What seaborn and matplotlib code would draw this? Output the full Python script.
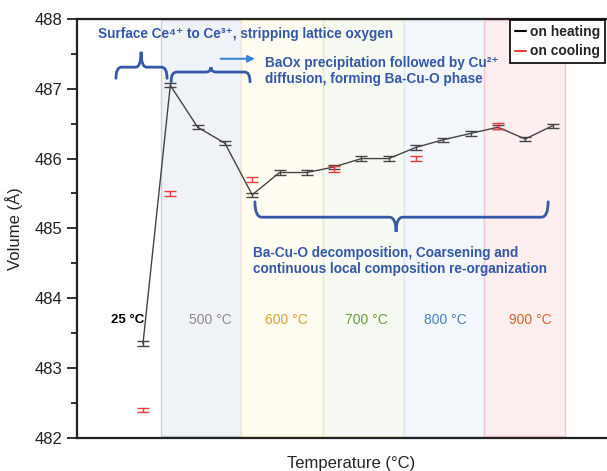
import matplotlib
matplotlib.use("Agg")
import matplotlib.pyplot as plt
import numpy as np
import pandas as pd
import seaborn as sns
from matplotlib.lines import Line2D
from matplotlib.path import Path
from matplotlib.patches import PathPatch


# heating series: one point per scan (index along x, no numeric ticks shown)
heat_idx = list(range(16))
heat_vol = [483.35, 487.05, 486.45, 486.22, 485.48, 485.80, 485.80, 485.88,
            486.00, 486.00, 486.16, 486.27, 486.36, 486.45, 486.28, 486.47]
heat_err = [0.04, 0.03, 0.03, 0.03, 0.03, 0.03, 0.03, 0.03,
            0.03, 0.03, 0.04, 0.03, 0.03, 0.03, 0.03, 0.03]

# cooling series
cool_idx = [0, 1, 4, 7, 10, 13]
cool_vol = [482.40, 485.50, 485.70, 485.85, 486.00, 486.47]
cool_err = [0.03, 0.03, 0.03, 0.04, 0.03, 0.04]

# temperature bands
band_labels = ["500 °C", "600 °C", "700 °C", "800 °C", "900 °C"]
band_edges = [0.65, 3.6, 6.6, 9.55, 12.5, 15.45]
band_fill = ["#eff2f6", "#fffcf2", "#f7faf3", "#f3f7fc", "#fdeef0"]
band_edge = ["#cfd1d4", "#f6ecc0", "#e0edce", "#dbe7f5", "#f5c8ce"]
band_text = ["#8a8a8a", "#d9a13a", "#6a9a3c", "#4a7fc4", "#d4622e"]

BLUE = "#3558a8"
FAMILIES = ["Liberation Sans", "DejaVu Sans"]
NOTE_FONT = dict(fontsize=9.8, fontweight="bold", color=BLUE, family=FAMILIES)

sns.set_theme(style="ticks")
plt.rcParams["font.family"] = FAMILIES

fig = plt.figure(figsize=(6.07, 4.71), dpi=100)
ax = fig.add_axes([77 / 607, 1 - 437.7 / 471, 1.03 - 77 / 607, (437.7 - 19) / 471])

for i, lab in enumerate(band_labels):
    ax.axvspan(band_edges[i], band_edges[i + 1], ymin=0.004, ymax=0.997,
               facecolor=band_fill[i], edgecolor=band_edge[i], lw=1.0, zorder=0)

df_heat = pd.DataFrame({"idx": heat_idx, "vol": heat_vol})
sns.lineplot(data=df_heat, x="idx", y="vol", ax=ax, color="#454545", lw=1.0, zorder=3)
ax.errorbar(heat_idx, heat_vol, yerr=heat_err, fmt="none", ecolor="#454545",
            elinewidth=1.0, capsize=4, capthick=1.0, zorder=4)
ax.errorbar(cool_idx, cool_vol, yerr=cool_err, fmt="none", ecolor="#ee3b3b",
            elinewidth=1.0, capsize=4, capthick=1.0, zorder=5)

ax.set_xlim((77 - 143) / 27.3, (1.03 * 607 - 143) / 27.3)
ax.set_ylim(482, 488)
ax.set_xticks([])
ax.set_yticks([482, 483, 484, 485, 486, 487, 488])
ax.set_yticks(np.arange(482.5, 488, 1), minor=True)
ax.tick_params(axis="y", which="major", direction="out", length=7, width=1.3,
               labelsize=12, colors="#222222")
ax.tick_params(axis="y", which="minor", direction="out", length=4, width=1.3,
               color="#222222")
for sp in ax.spines.values():
    sp.set_linewidth(1.6)
    sp.set_color("#222222")

ax.set_ylabel("Volume (Å)", fontsize=12, labelpad=8)
ax.set_xlabel("Temperature (°C)", fontsize=12, labelpad=13)

# temperature labels
ax.text(-0.55, 483.69, "25 °C", ha="center", va="center", fontsize=9.5,
        fontweight="bold", color="black")
band_x = [2.45, 5.27, 8.2, 11.06, 14.2]
for x, lab, c in zip(band_x, band_labels, band_text):
    ax.text(x, 483.69, lab, ha="center", va="center", fontsize=10, color=c)


def brace(ax, x0, x1, xm, y_end, y_line, y_tip, r=0.35):
    verts = [(x0, y_end), (x0, y_line), (x0 + r, y_line),
             (xm - r, y_line), (xm, y_line), (xm, y_tip),
             (xm, y_line), (xm + r, y_line),
             (x1 - r, y_line), (x1, y_line), (x1, y_end)]
    codes = [Path.MOVETO, Path.CURVE3, Path.CURVE3,
             Path.LINETO, Path.CURVE3, Path.CURVE3,
             Path.CURVE3, Path.CURVE3,
             Path.LINETO, Path.CURVE3, Path.CURVE3]
    ax.add_patch(PathPatch(Path(verts, codes), fill=False, edgecolor=BLUE,
                           lw=2.0, capstyle="round", zorder=6))


brace(ax, -0.99, 0.88, -0.07, 487.15, 487.31, 487.53, r=0.2)
brace(ax, 1.03, 3.92, 2.49, 487.10, 487.24, 487.31, r=0.2)
brace(ax, 4.10, 14.84, 9.27, 485.38, 485.16, 484.95, r=0.25)

ax.text(-1.65, 487.79, "Surface Ce⁴⁺ to Ce³⁺, stripping lattice oxygen",
        ha="left", va="center", **NOTE_FONT)
ax.text(4.47, 487.26, "BaOx precipitation followed by Cu²⁺\ndiffusion, forming Ba-Cu-O phase",
        ha="left", va="center", linespacing=1.2, **NOTE_FONT)
ax.text(4.03, 484.53, "Ba-Cu-O decomposition, Coarsening and\ncontinuous local composition re-organization",
        ha="left", va="center", linespacing=1.2, **NOTE_FONT)
ax.annotate("", xy=(4.2, 487.43), xytext=(2.75, 487.43),
            arrowprops=dict(arrowstyle="-|>", color="#3a86d4", lw=1.5,
                            mutation_scale=10), zorder=6)

handles = [Line2D([], [], color="black", lw=1.5), Line2D([], [], color="#ee3b3b", lw=1.5)]
leg = ax.legend(handles, ["on heating", "on cooling"], loc="upper right",
                bbox_to_anchor=(605 / 607, 1 - 20 / 471), bbox_transform=fig.transFigure,
                borderaxespad=0, fancybox=False, framealpha=1, edgecolor="black",
                handlelength=0.8, handletextpad=0.3, borderpad=0.35, labelspacing=0.4,
                prop={"family": "Liberation Sans", "size": 10, "weight": "bold"})
leg.get_frame().set_linewidth(1.2)
leg.set_zorder(10)

fig.savefig("out.png", dpi=100)
